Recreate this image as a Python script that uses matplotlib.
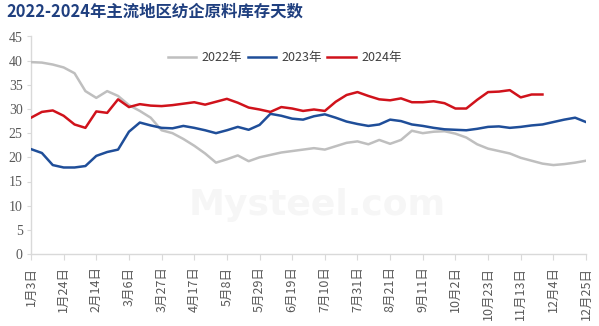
import matplotlib
matplotlib.use("Agg")
import matplotlib.pyplot as plt

plt.rcParams['font.family'] = ['Noto Sans CJK SC', 'DejaVu Sans']

# Weekly raw-material inventory days at spinning mills
weeks = list(range(52))
tick_labels = ["1月3日", "1月24日", "2月14日", "3月6日", "3月27日", "4月17日",
               "5月8日", "5月29日", "6月19日", "7月10日", "7月31日", "8月21日",
               "9月11日", "10月2日", "10月23日", "11月13日", "12月4日", "12月25日"]

days_2022 = [39.7, 39.6, 39.2, 38.6, 37.4, 33.7, 32.3, 33.7, 32.7, 30.8,
             29.6, 28.2, 25.6, 25.0, 23.8, 22.4, 20.8, 18.9, 19.6, 20.4,
             19.2, 20.0, 20.5, 21.0, 21.3, 21.6, 21.9, 21.6, 22.3, 23.0,
             23.3, 22.7, 23.6, 22.8, 23.6, 25.5, 25.0, 25.3, 25.4, 24.9,
             24.1, 22.7, 21.8, 21.3, 20.8, 19.9, 19.3, 18.7, 18.4, 18.6,
             18.9, 19.3]
days_2023 = [21.7, 20.9, 18.4, 17.9, 17.9, 18.2, 20.3, 21.1, 21.6, 25.3,
             27.2, 26.6, 26.1, 26.0, 26.5, 26.1, 25.6, 25.0, 25.6, 26.3,
             25.7, 26.7, 29.0, 28.6, 28.0, 27.8, 28.5, 28.9, 28.2, 27.4,
             26.9, 26.5, 26.8, 27.8, 27.5, 26.8, 26.5, 26.1, 25.8, 25.7,
             25.6, 25.9, 26.3, 26.4, 26.1, 26.3, 26.6, 26.8, 27.3, 27.8,
             28.2, 27.3]
days_2024 = [28.2, 29.4, 29.7, 28.6, 26.8, 26.1, 29.5, 29.2, 32.0, 30.4,
             31.0, 30.7, 30.6, 30.8, 31.1, 31.4, 30.9, 31.5, 32.1, 31.3,
             30.3, 29.9, 29.4, 30.4, 30.1, 29.6, 29.9, 29.6, 31.5, 32.9,
             33.5, 32.7, 32.0, 31.8, 32.2, 31.4, 31.4, 31.6, 31.2, 30.1,
             30.1, 31.9, 33.5, 33.6, 33.9, 32.4, 33.0, 33.0]
series_names = ["2022年", "2023年", "2024年"]

W, H = 599, 326
fig = plt.figure(figsize=(W / 100, H / 100), dpi=100)
fig.patch.set_facecolor("white")
ax = fig.add_axes([31 / W, 1 - 254 / H, (586 - 31) / W, (254 - 36.5) / H])

# faint site watermark
fig.text(0.53, 0.37, "Mysteel.com", fontsize=26, fontweight="bold",
         color="#f6f6f6", ha="center", va="center", family=["DejaVu Sans"], zorder=0)

ax.plot(weeks, days_2022, color="#BFBFBF", lw=1.8, label=series_names[0], zorder=3)
ax.plot(weeks[:len(days_2023)], days_2023, color="#1F4E99", lw=1.8,
        label=series_names[1], zorder=4)
ax.plot(weeks[:len(days_2024)], days_2024, color="#D0121B", lw=1.8,
        label=series_names[2], zorder=5)

ax.set_xlim(0, 51)
ax.set_ylim(0, 45)
ax.set_yticks(range(0, 46, 5))
ax.set_xticks(weeks[::3])
ax.set_xticklabels(tick_labels, rotation=90, va="top", ha="center",
                   fontsize=9, color="#595959")
for lab in ax.get_yticklabels():
    lab.set_family(["Liberation Serif"])
    lab.set_fontsize(10)
    lab.set_color("#595959")

ax.patch.set_alpha(0)
for s in ["top", "right"]:
    ax.spines[s].set_visible(False)
for s in ["left", "bottom"]:
    ax.spines[s].set_color("#D9D9D9")
    ax.spines[s].set_linewidth(1.0)
ax.tick_params(axis="x", direction="out", length=4, color="#D9D9D9", pad=5)
ax.tick_params(axis="y", direction="out", length=3, color="#D9D9D9", pad=3)

leg = ax.legend(loc="upper center", bbox_to_anchor=(0.457, 0.985), ncol=3,
                frameon=False, fontsize=9, handlelength=2.3, handletextpad=0.4,
                columnspacing=0.45)
for t in leg.get_texts():
    t.set_color("#404040")

fig.text(6 / W, 1 - 12 / H, "2022-2024年主流地区纺企原料库存天数", fontsize=11.8,
         fontweight="bold", color="#1F3F7F", ha="left", va="center")

fig.savefig("out.png", dpi=100)
